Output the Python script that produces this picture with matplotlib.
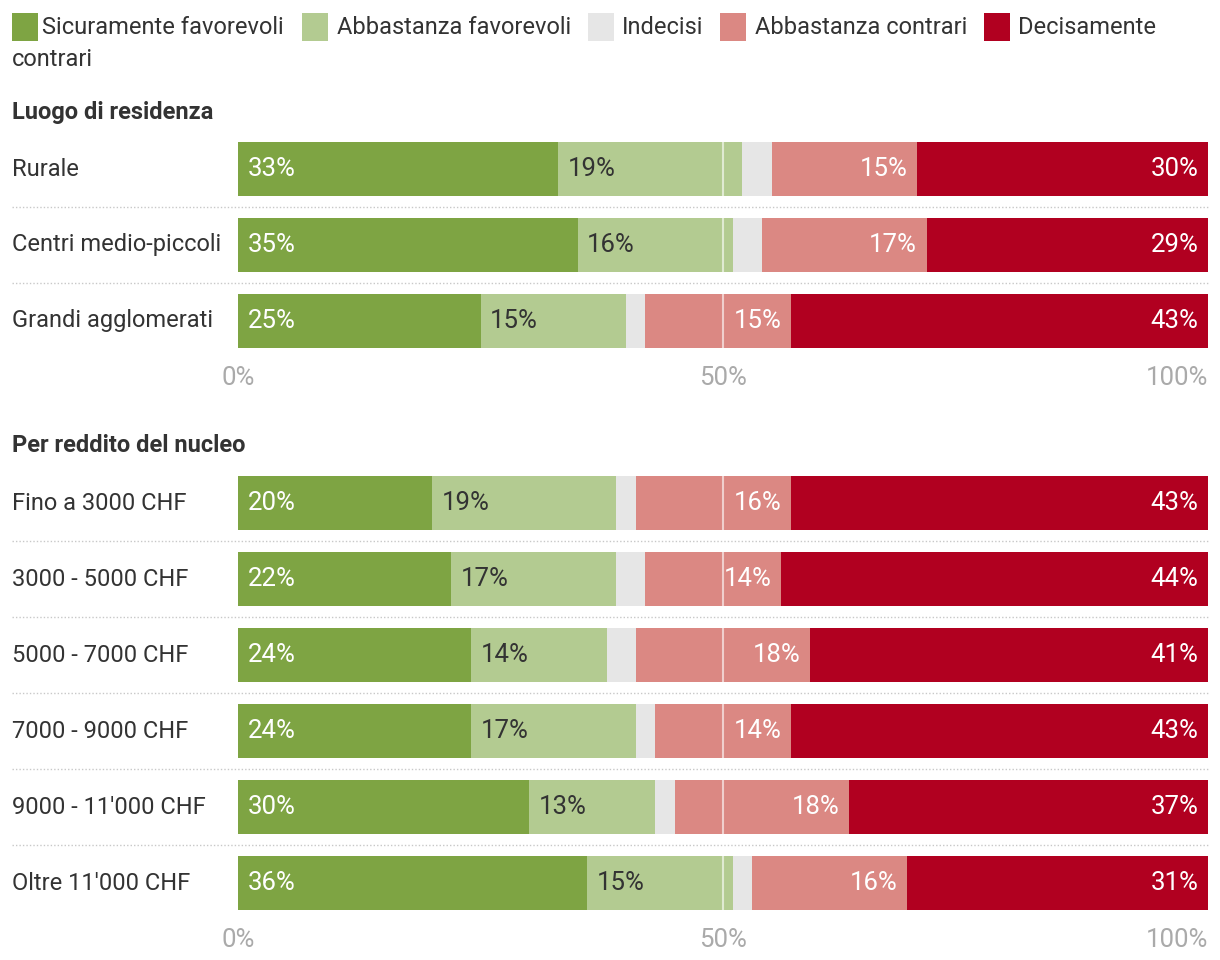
import matplotlib.pyplot as plt
from matplotlib.patches import Rectangle
from matplotlib.transforms import blended_transform_factory
import numpy as np

plt.rcParams['font.family'] = ['Roboto', 'DejaVu Sans']

# legend / series
series = ['Sicuramente favorevoli', 'Abbastanza favorevoli', 'Indecisi',
          'Abbastanza contrari', 'Decisamente contrari']
colors = ['#7ea443', '#b3cb91', '#e6e6e6', '#db8883', '#b10020']
text_cols = ['white', '#333333', None, 'white', 'white']

# panel 1
title1 = 'Luogo di residenza'
rows1 = ['Rurale', 'Centri medio-piccoli', 'Grandi agglomerati']
vals1 = [[33, 19, 3, 15, 30],
         [35, 16, 3, 17, 29],
         [25, 15, 2, 15, 43]]

# panel 2
title2 = 'Per reddito del nucleo'
rows2 = ['Fino a 3000 CHF', '3000 - 5000 CHF', '5000 - 7000 CHF',
         '7000 - 9000 CHF', "9000 - 11'000 CHF", "Oltre 11'000 CHF"]
vals2 = [[20, 19, 2, 16, 43],
         [22, 17, 3, 14, 44],
         [24, 14, 3, 18, 41],
         [24, 17, 2, 14, 43],
         [30, 13, 2, 18, 37],
         [36, 15, 2, 16, 31]]

W, H = 1220, 960
fig = plt.figure(figsize=(W / 100, H / 100), dpi=100)
TXT = '#333333'
FS = 17          # labels, legend
FS_NUM = 18.5    # percentages inside bars
FS_TICK = 18.5


def fx(px):
    return px / W


def fy(py):
    return 1 - py / H


def panel(top_px, rows, vals, title):
    n = len(rows)
    pitch = 76
    ax = fig.add_axes([fx(238), fy(top_px + n * pitch), fx(1208) - fx(238), n * pitch / H])
    ax.set_xlim(0, 100)
    ax.set_ylim(n - 0.5, -0.5)
    bh = 54 / 76
    data = np.array(vals, dtype=float)
    lefts = np.zeros(n)
    for j in range(data.shape[1]):
        ax.barh(np.arange(n), data[:, j], left=lefts, height=bh, color=colors[j], linewidth=0)
        for i in range(n):
            v = data[i, j]
            if text_cols[j] is None:
                continue
            if j < 2:
                ax.text(lefts[i] + 1.0, i, f'{v:.0f}%', ha='left', va='center',
                        color=text_cols[j], fontsize=FS_NUM)
            else:
                ax.text(lefts[i] + v - 1.0, i, f'{v:.0f}%', ha='right', va='center',
                        color=text_cols[j], fontsize=FS_NUM)
        lefts += data[:, j]
    # 50% marker inside bars
    ax.vlines([50] * n, np.arange(n) - bh / 2, np.arange(n) + bh / 2,
              color='white', alpha=0.6, linewidth=1.5)
    for s in ax.spines.values():
        s.set_visible(False)
    ax.set_yticks([])
    ax.set_xticks([0, 50, 100])
    ax.set_xticklabels(['0%', '50%', '100%'])
    ax.tick_params(axis='x', length=0, pad=5, labelsize=FS_TICK, labelcolor='#aaaaaa')
    ax.get_xticklabels()[-1].set_ha('right')
    tr = blended_transform_factory(fig.transFigure, ax.transData)
    for i, r in enumerate(rows):
        ax.text(fx(12), i, r, transform=tr, ha='left', va='center', color=TXT, fontsize=FS)
    for i in range(n - 1):
        ax.add_line(plt.Line2D([fx(12), fx(1208)], [i + 0.5, i + 0.5], transform=tr,
                               color='#c8c8c8', linestyle=(0, (1, 1.5)), linewidth=1,
                               clip_on=False))
    fig.text(fx(12), fy(top_px - 19), title, ha='left', va='center', color=TXT,
             fontsize=FS, fontweight='bold')
    return ax


panel(131, rows1, vals1, title1)
panel(465, rows2, vals2, title2)

# legend, wrapped like the original
sq_x = [12, 302, 588, 720, 984]
tx_x = [42, 337, 622, 755, 1018]
for j in range(len(series)):
    fig.add_artist(Rectangle((fx(sq_x[j]), fy(41)), 26 / W, 28 / H,
                             transform=fig.transFigure, color=colors[j], linewidth=0))
    lab = 'Decisamente' if j == 4 else series[j]
    fig.text(fx(tx_x[j]), fy(27), lab, ha='left', va='center', color=TXT, fontsize=FS)
fig.text(fx(12), fy(60), 'contrari', ha='left', va='center', color=TXT, fontsize=FS)

fig.savefig('out.png', dpi=100, facecolor='white')
